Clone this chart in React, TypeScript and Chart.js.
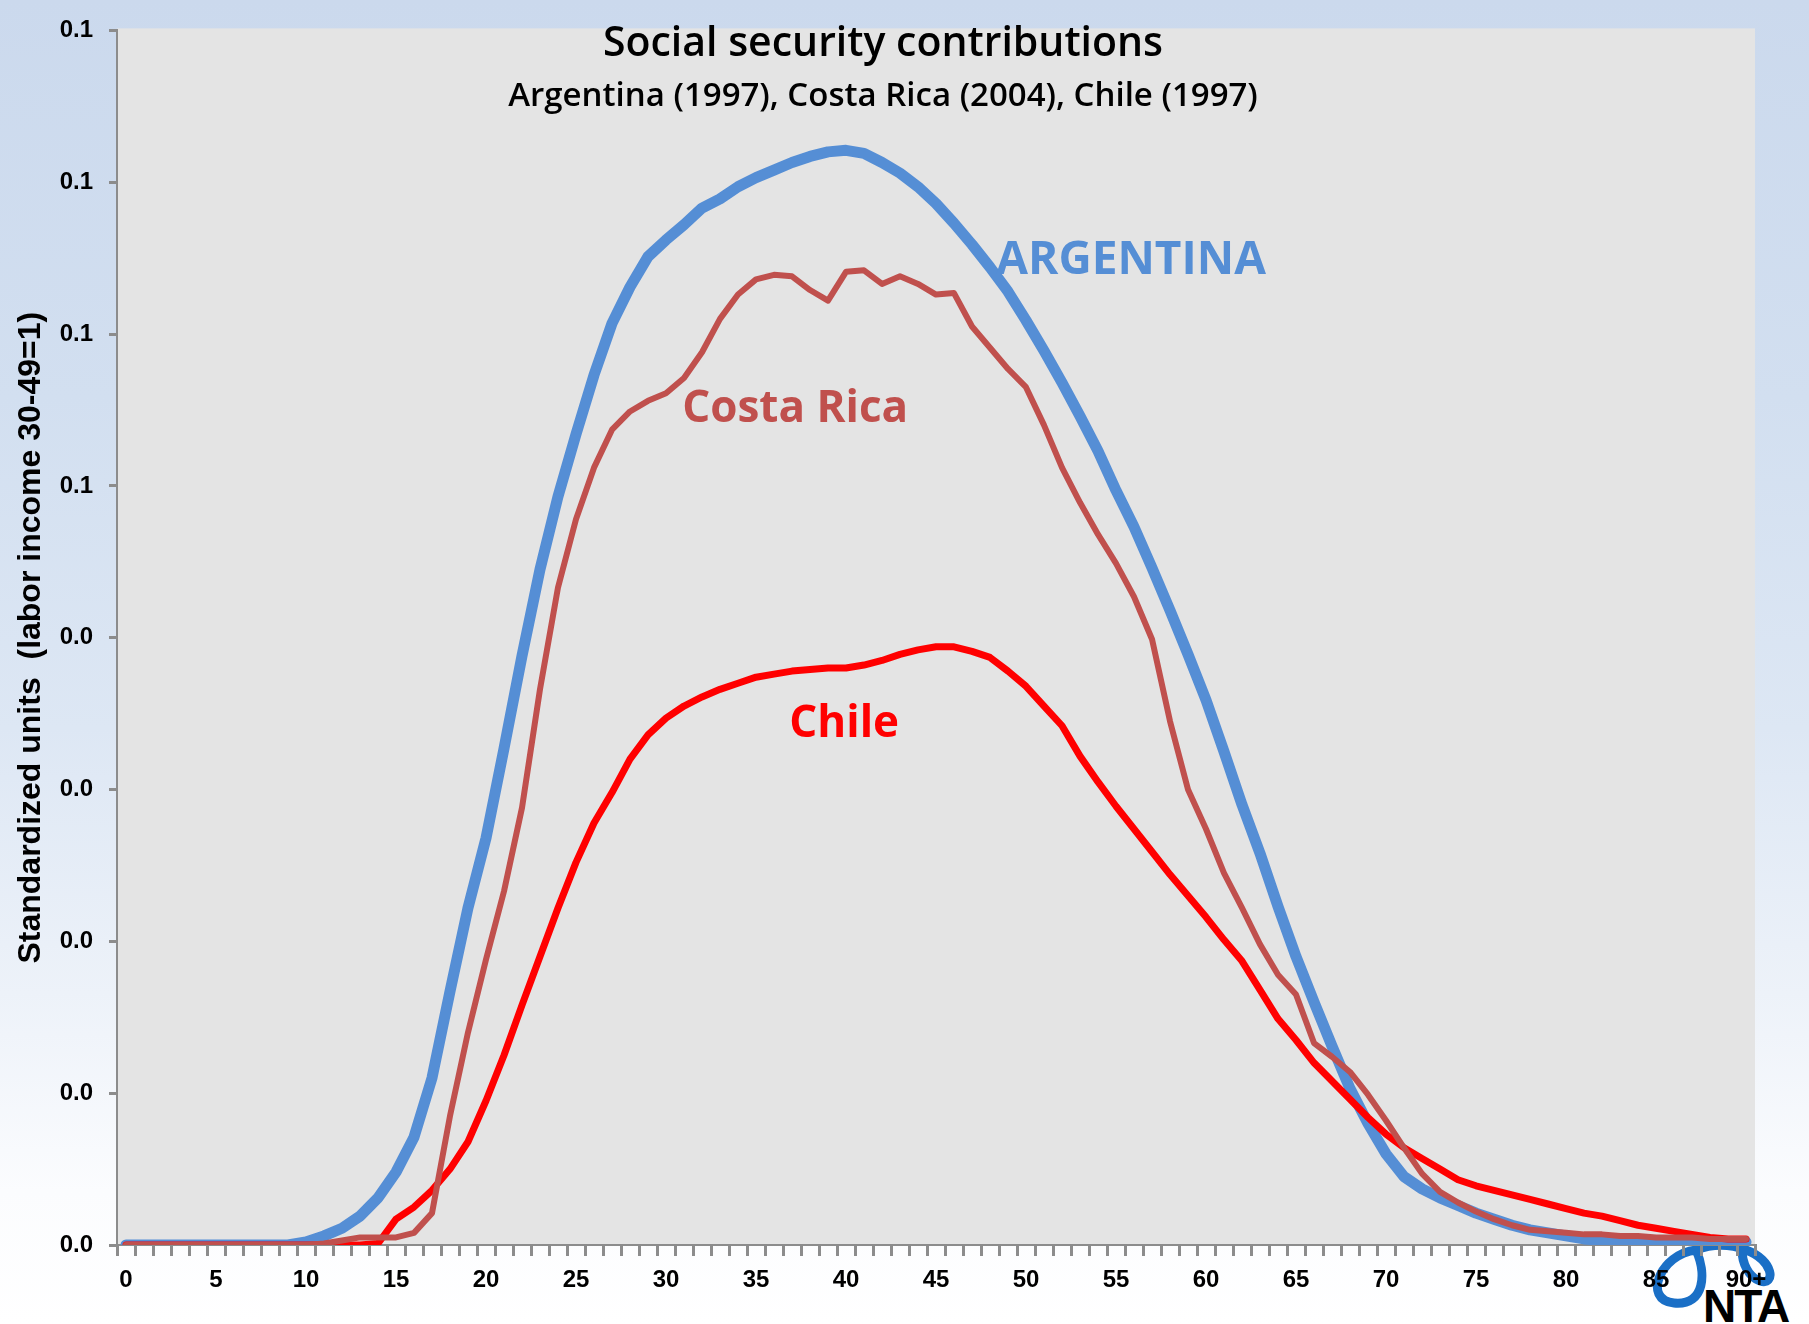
import React, { useEffect, useRef } from 'react';
import { Chart, registerables } from 'chart.js';

Chart.register(...registerables);

// ---------- data ----------
const ageLabels = [
  '0', '1', '2', '3', '4', '5', '6', '7', '8', '9',
  '10', '11', '12', '13', '14', '15', '16', '17', '18', '19',
  '20', '21', '22', '23', '24', '25', '26', '27', '28', '29',
  '30', '31', '32', '33', '34', '35', '36', '37', '38', '39',
  '40', '41', '42', '43', '44', '45', '46', '47', '48', '49',
  '50', '51', '52', '53', '54', '55', '56', '57', '58', '59',
  '60', '61', '62', '63', '64', '65', '66', '67', '68', '69',
  '70', '71', '72', '73', '74', '75', '76', '77', '78', '79',
  '80', '81', '82', '83', '84', '85', '86', '87', '88', '89',
  '90+',
];

const argentina = [
  0, 0, 0, 0, 0, 0, 0, 0, 0, 0,
  0.0002, 0.0006, 0.0011, 0.0019, 0.0031, 0.0048, 0.0071, 0.0110, 0.0167, 0.0222,
  0.0268, 0.0327, 0.0388, 0.0445, 0.0493, 0.0534, 0.0573, 0.0607, 0.0631, 0.0651,
  0.0662, 0.0672, 0.0683, 0.0689, 0.0697, 0.0703, 0.0708, 0.0713, 0.0717, 0.0720,
  0.0721, 0.0719, 0.0713, 0.0706, 0.0697, 0.0686, 0.0673, 0.0659, 0.0644, 0.0628,
  0.0609, 0.0589, 0.0568, 0.0546, 0.0523, 0.0497, 0.0473, 0.0446, 0.0418, 0.0389,
  0.0359, 0.0325, 0.0290, 0.0258, 0.0223, 0.0190, 0.0160, 0.0131, 0.0103, 0.0080,
  0.0060, 0.0045, 0.0037, 0.0031, 0.0026, 0.0021, 0.0017, 0.0013, 0.0010, 0.0008,
  0.0006, 0.0004, 0.0003, 0.0002, 0.0002, 0.0001, 0.0001, 0.0001, 0.0001, 0.0001,
  0.0002,
];

const costaRica = [
  0, 0, 0, 0, 0, 0, 0, 0, 0, 0,
  0, 0.0001, 0.0003, 0.0005, 0.0005, 0.0005, 0.0008, 0.0021, 0.0085, 0.0140,
  0.0188, 0.0233, 0.0288, 0.0366, 0.0433, 0.0478, 0.0512, 0.0537, 0.0549, 0.0556,
  0.0561, 0.0571, 0.0588, 0.0610, 0.0626, 0.0636, 0.0639, 0.0638, 0.0629, 0.0622,
  0.0641, 0.0642, 0.0633, 0.0638, 0.0633, 0.0626, 0.0627, 0.0605, 0.0591, 0.0577,
  0.0565, 0.0540, 0.0512, 0.0489, 0.0468, 0.0449, 0.0427, 0.0399, 0.0345, 0.0300,
  0.0274, 0.0245, 0.0222, 0.0198, 0.0178, 0.0165, 0.0133, 0.0124, 0.0114, 0.0099,
  0.0082, 0.0064, 0.0047, 0.0035, 0.0028, 0.0022, 0.0017, 0.0013, 0.0010, 0.0009,
  0.0008, 0.0007, 0.0007, 0.0006, 0.0006, 0.0005, 0.0005, 0.0005, 0.0004, 0.0004,
  0.0004,
];

const chile = [
  0, 0, 0, 0, 0, 0, 0, 0, 0, 0,
  0, 0, 0, 0, 0.0001, 0.0017, 0.0025, 0.0036, 0.0050, 0.0068,
  0.0095, 0.0125, 0.0158, 0.0190, 0.0222, 0.0252, 0.0278, 0.0298, 0.0320, 0.0336,
  0.0347, 0.0355, 0.0361, 0.0366, 0.0370, 0.0374, 0.0376, 0.0378, 0.0379, 0.0380,
  0.0380, 0.0382, 0.0385, 0.0389, 0.0392, 0.0394, 0.0394, 0.0391, 0.0387, 0.0378,
  0.0368, 0.0355, 0.0342, 0.0322, 0.0305, 0.0289, 0.0274, 0.0259, 0.0244, 0.0230,
  0.0216, 0.0201, 0.0187, 0.0168, 0.0149, 0.0135, 0.0120, 0.0108, 0.0096, 0.0084,
  0.0073, 0.0064, 0.0057, 0.0050, 0.0043, 0.0039, 0.0036, 0.0033, 0.0030, 0.0027,
  0.0024, 0.0021, 0.0019, 0.0016, 0.0013, 0.0011, 0.0009, 0.0007, 0.0005, 0.0004,
  0.0004,
];

const yTickLabels = ['0.0', '0.0', '0.0', '0.0', '0.0', '0.1', '0.1', '0.1', '0.1'];

const titleText = 'Social security contributions';
const subtitleText = 'Argentina (1997), Costa Rica (2004), Chile (1997)';
const yAxisTitle = 'Standardized units  (labor income 30-49=1)';

// series annotation labels (anchored in data coordinates: age, value)
const seriesNames = ['ARGENTINA', 'Costa Rica', 'Chile'];
const seriesLabelAges = [48.35, 30.9, 36.85];
const seriesLabelValues = [0.0648, 0.0550, 0.0343];
const seriesLabelSizes = [46, 44, 44];
const seriesColors = ['#558ed5', '#c0504d', '#ff0000'];

const axisGray = '#8c8c8c';

const decorPlugin = {
  id: 'decor',
  beforeDraw(chart: any) {
    const { ctx, chartArea: a } = chart;
    ctx.save();
    ctx.fillStyle = '#e4e4e4';
    ctx.fillRect(a.left, a.top - 2, a.right - a.left, a.bottom - a.top + 2);
    ctx.restore();
  },
  beforeDatasetsDraw(chart: any) {
    const { ctx } = chart;
    ctx.save();
    ctx.fillStyle = '#000000';
    ctx.textAlign = 'center';
    ctx.textBaseline = 'alphabetic';
    ctx.font = '600 41px "Open Sans"';
    ctx.fillText(titleText, 883, 56);
    ctx.font = '600 33px "Open Sans"';
    ctx.fillText(subtitleText, 883, 106);
    ctx.restore();
  },
  afterDatasetsDraw(chart: any) {
    const { ctx } = chart;
    const xs = chart.scales.x;
    const ys = chart.scales.y;
    ctx.save();
    ctx.textAlign = 'left';
    ctx.textBaseline = 'middle';
    seriesNames.forEach((name, i) => {
      ctx.font = `bold ${seriesLabelSizes[i]}px "Open Sans"`;
      ctx.fillStyle = seriesColors[i];
      ctx.fillText(name, xs.getPixelForValue(seriesLabelAges[i]), ys.getPixelForValue(seriesLabelValues[i]));
    });
    ctx.restore();
  },
};

export default function App() {
  const canvasRef = useRef<HTMLCanvasElement | null>(null);

  useEffect(() => {
    document.body.style.margin = '0';
    const canvas = canvasRef.current;
    if (!canvas) return;
    const chart = new Chart(canvas, {
      type: 'line',
      data: {
        labels: ageLabels,
        datasets: [
          {
            label: 'Argentina',
            data: argentina,
            borderColor: seriesColors[0],
            borderWidth: 11,
            order: 3,
          },
          {
            label: 'Costa Rica',
            data: costaRica,
            borderColor: seriesColors[1],
            borderWidth: 6,
            order: 1,
          },
          {
            label: 'Chile',
            data: chile,
            borderColor: seriesColors[2],
            borderWidth: 7,
            order: 2,
          },
        ].map((d) => ({
          ...d,
          pointRadius: 0,
          pointHoverRadius: 0,
          tension: 0,
          fill: false,
          borderJoinStyle: 'round' as const,
          borderCapStyle: 'round' as const,
        })),
      },
      options: {
        responsive: false,
        animation: false,
        events: [],
        layout: { padding: { left: 0, top: 21, right: 54, bottom: 0 } },
        plugins: {
          legend: { display: false },
          tooltip: { enabled: false },
          title: { display: false },
        },
        scales: {
          x: {
            type: 'category',
            offset: true,
            grid: {
              display: true,
              drawOnChartArea: false,
              drawTicks: true,
              tickLength: 11,
              offset: true,
              color: axisGray,
              lineWidth: 3,
            },
            border: { display: true, color: axisGray, width: 2 },
            ticks: {
              autoSkip: false,
              maxRotation: 0,
              minRotation: 0,
              padding: 10,
              color: '#000000',
              font: { family: '"Liberation Sans", Arial, sans-serif', size: 24, weight: 'bold' },
              callback: (_v: any, i: number) => (i % 5 === 0 ? ageLabels[i] : ''),
            },
            afterFit: (scale: any) => {
              scale.height = 79;
            },
          },
          y: {
            type: 'linear',
            min: 0,
            max: 0.08,
            grid: {
              display: true,
              drawOnChartArea: false,
              drawTicks: true,
              tickLength: 8,
              color: axisGray,
              lineWidth: 3,
            },
            border: { display: true, color: axisGray, width: 2 },
            ticks: {
              stepSize: 0.01,
              padding: 16,
              color: '#000000',
              font: { family: '"Liberation Sans", Arial, sans-serif', size: 24, weight: 'bold' },
              callback: (_v: any, i: number) => yTickLabels[i],
            },
            title: {
              display: true,
              text: yAxisTitle,
              color: '#000000',
              font: { family: '"Liberation Sans", Arial, sans-serif', size: 32, weight: 'bold' },
              padding: { top: 12, bottom: 0 },
            },
            afterFit: (scale: any) => {
              scale.width = 117;
            },
          },
        },
      },
      plugins: [decorPlugin],
    } as any);
    return () => {
      chart.destroy();
    };
  }, []);

  return (
    <div
      style={{
        position: 'relative',
        width: 1809,
        height: 1324,
        overflow: 'hidden',
        background:
          'linear-gradient(180deg, #cbd9ed 0%, #d2dff0 30%, #dde7f4 55%, #edf2f9 75%, #fbfcfe 90%, #ffffff 100%)',
      }}
    >
      <svg
        width={1809}
        height={1324}
        style={{ position: 'absolute', left: 0, top: 0 }}
      >
        <path
          d="M 1696 1250 C 1660 1254, 1642 1300, 1674 1303 C 1706 1306, 1706 1272, 1696 1250 C 1712 1244, 1730 1244, 1746 1250 C 1774 1260, 1776 1286, 1760 1281 C 1748 1277, 1742 1262, 1742 1250"
          fill="none"
          stroke="#1a6fc6"
          strokeWidth={9}
          strokeLinecap="round"
          strokeLinejoin="round"
        />
        <text
          x={1703}
          y={1322}
          fontFamily='"Liberation Sans", Arial, sans-serif'
          fontWeight="bold"
          fontSize={46}
          letterSpacing={-2}
          fill="#000000"
        >
          NTA
        </text>
      </svg>
      <canvas
        ref={canvasRef}
        width={1809}
        height={1324}
        style={{ position: 'absolute', left: 0, top: 0, width: 1809, height: 1324 }}
      />
    </div>
  );
}
